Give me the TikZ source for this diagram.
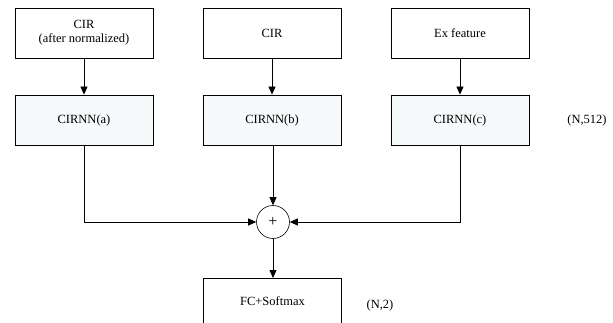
\documentclass[tikz,border=0pt]{standalone}
\usepackage{fontspec}
\setmainfont{Liberation Serif}
\usetikzlibrary{arrows.meta}
\definecolor{boxfill}{RGB}{246,250,251}
\begin{document}
\begin{tikzpicture}[x=1pt,y=-1pt,
  every node/.style={font=\fontsize{12.5}{14}\selectfont},
  inbox/.style={draw,line width=0.8pt,minimum width=138pt,minimum height=50pt,inner sep=0pt,align=center},
  netbox/.style={inbox,fill=boxfill},
  link/.style={draw,line width=0.8pt,-{Triangle[length=8pt,width=7pt]}},
  sumnode/.style={draw,circle,line width=0.6pt,minimum size=33pt,inner sep=0pt}]
\useasboundingbox (0,0) rectangle (613,323);
\clip (0,0) rectangle (613,323);
% inputs
\node[inbox] (in1) at (84,33) {CIR\\[0pt](after normalized)};
\node[inbox] (in2) at (272,33) {CIR};
\node[inbox] (in3) at (460,33) {Ex feature};
% sub-networks
\node[netbox] (nn1) at (84,120) {CIRNN(a)};
\node[netbox] (nn2) at (272,120) {CIRNN(b)};
\node[netbox] (nn3) at (460,120) {CIRNN(c)};
\node (dim1) at (587,120) {(N,512)};
% fusion
\node[sumnode] (sum) at (273,222) {\fontsize{16}{16}\selectfont +};
% classifier
\node[inbox,minimum height=58pt,anchor=north] (fc) at (272.5,278) {};
\node (fctext) at (272.5,301) {FC+Softmax};
\node (dim2) at (380,305) {(N,2)};
% connectors
\draw[link] (in1) -- (nn1);
\draw[link] (in2) -- (nn2);
\draw[link] (in3) -- (nn3);
\draw[link] (nn2.south -| sum) -- (sum);
\draw[link] (nn1.south) |- (sum.west);
\draw[link] (nn3.south) |- (sum.east);
\draw[link] (sum) -- (fc.north -| sum);
\end{tikzpicture}
\end{document}
